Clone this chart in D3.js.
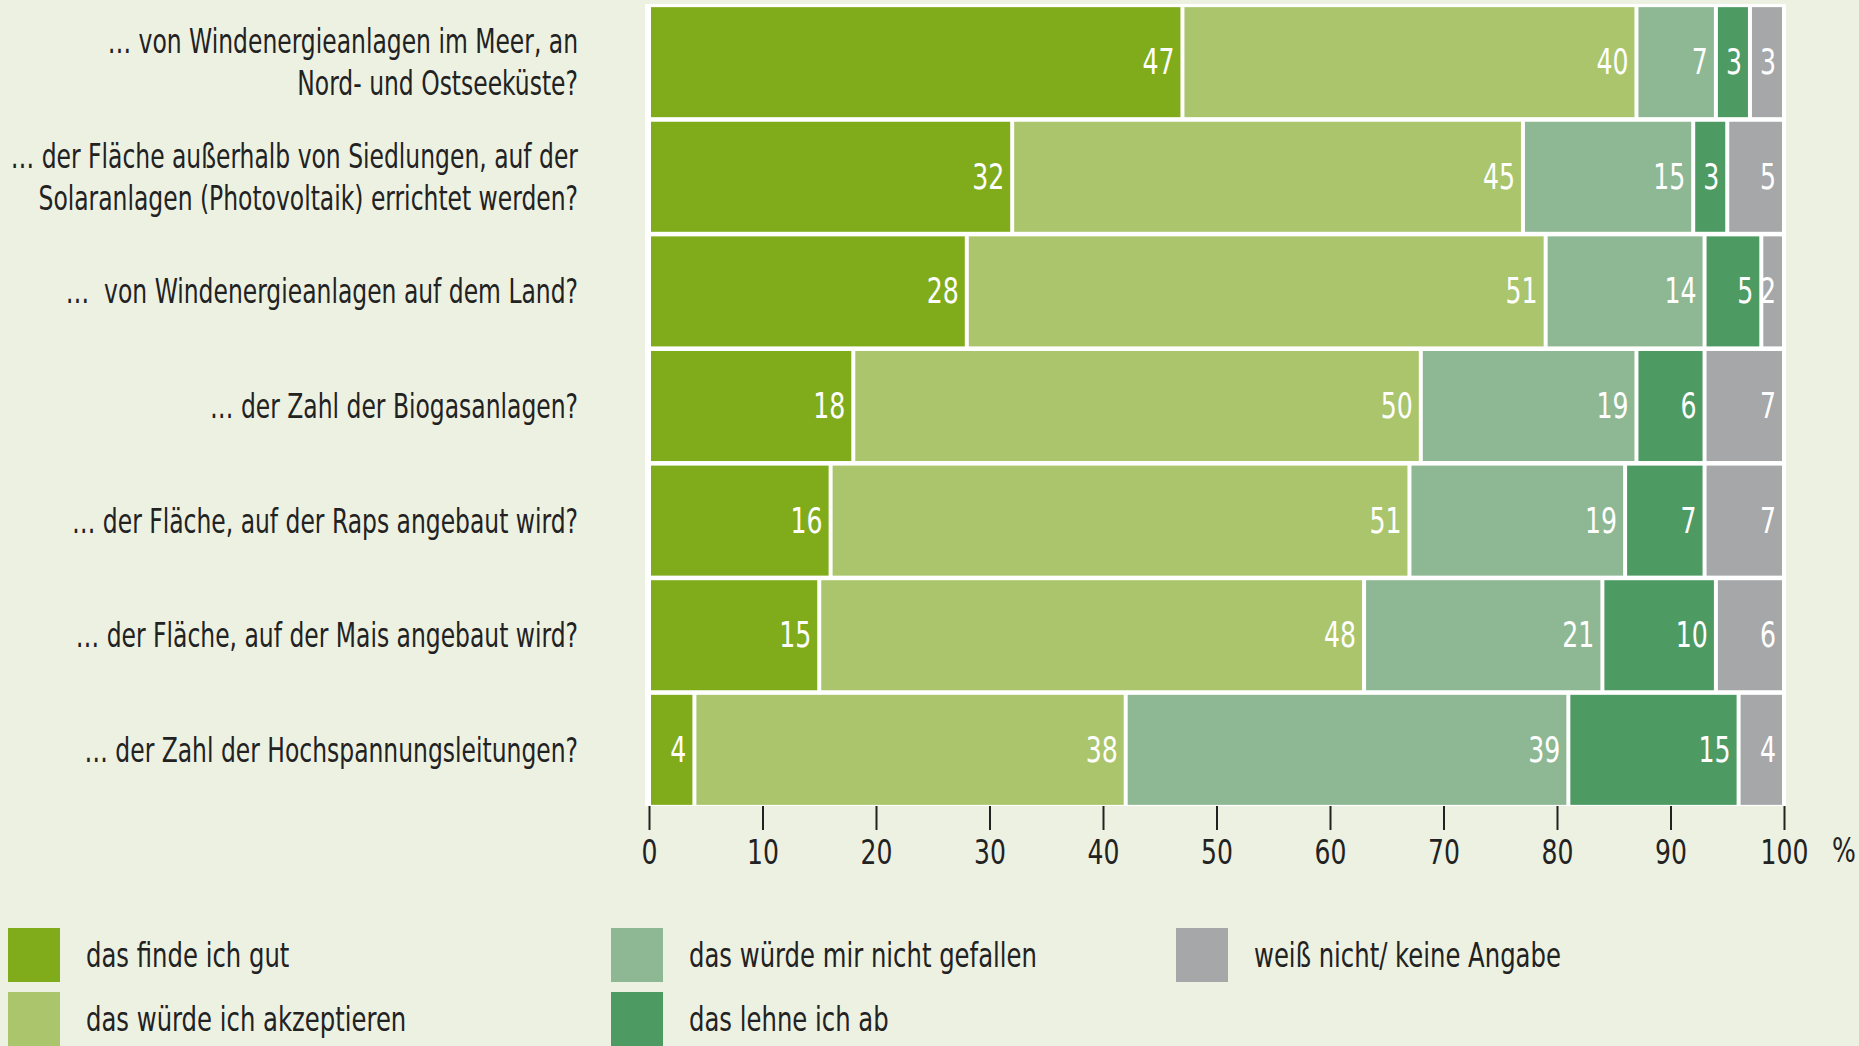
<!DOCTYPE html>
<html>
<head>
<meta charset="utf-8">
<script src="https://cdn.jsdelivr.net/npm/d3@7"></script>
<style>
  html, body { margin: 0; padding: 0; background: #edf1e2; overflow: hidden; }
  svg { display: block; }
  text { font-family: "Liberation Sans Narrow", "DejaVu Sans Condensed", "Liberation Sans", sans-serif; }
</style>
</head>
<body>
<svg id="chart" width="1859" height="1046"></svg>
<script>
// Fragen (zeilen), zweizeilige als array
var questions = [
  ["\u2026 von Windenergieanlagen im Meer, an", "Nord- und Ostseek\u00fcste?"],
  ["\u2026 der Fl\u00e4che au\u00dferhalb von Siedlungen, auf der", "Solaranlagen (Photovoltaik) errichtet werden?"],
  ["\u2026 \u00a0von Windenergieanlagen auf dem Land?"],
  ["\u2026 der Zahl der Biogasanlagen?"],
  ["\u2026 der Fl\u00e4che, auf der Raps angebaut wird?"],
  ["\u2026 der Fl\u00e4che, auf der Mais angebaut wird?"],
  ["\u2026 der Zahl der Hochspannungsleitungen?"]
];

var answers = ["das finde ich gut", "das w\u00fcrde ich akzeptieren", "das w\u00fcrde mir nicht gefallen",
               "das lehne ich ab", "wei\u00df nicht/ keine Angabe"];

// Werte in Prozent, je Antwort eine Reihe
var gut         = [47, 32, 28, 18, 16, 15, 4];
var akzeptieren = [40, 45, 51, 50, 51, 48, 38];
var gefallen    = [7, 15, 14, 19, 19, 21, 39];
var ablehnen    = [3, 3, 5, 6, 7, 10, 15];
var weissNicht  = [3, 5, 2, 7, 7, 6, 4];

var xTicks = [0, 10, 20, 30, 40, 50, 60, 70, 80, 90, 100];

var colors = ["#80ac1b", "#aac56b", "#8db893", "#4e9a63", "#a6a7a9"];

var series = [gut, akzeptieren, gefallen, ablehnen, weissNicht];

// tabelle fuer d3.stack
var table = questions.map(function(q, i) {
  var row = { idx: i };
  answers.forEach(function(a, k) { row[a] = series[k][i]; });
  return row;
});
var stacked = d3.stack().keys(answers)(table);

var svg = d3.select("#chart");

var x = d3.scaleLinear().domain([0, 100]).range([649, 1784]);
var y = d3.scaleBand().domain(d3.range(questions.length)).range([6, 806]).paddingInner(0.04).paddingOuter(0.01);

var textScale = 0.82;
var labelScale = 0.79;

// weisser hintergrund hinter den balken
svg.append("rect")
  .attr("x", x(0) - 4)
  .attr("y", y.range()[0] - 2)
  .attr("width", x(100) - x(0) + 6)
  .attr("height", y.range()[1] - y.range()[0] + 2)
  .attr("fill", "#ffffff");

var layers = svg.append("g").selectAll("g")
  .data(stacked)
  .join("g")
  .attr("fill", function(d, k) { return colors[k]; });

layers.selectAll("rect")
  .data(function(d) { return d; })
  .join("rect")
  .attr("x", function(d) { return x(d[0]) + 2; })
  .attr("y", function(d) { return y(d.data.idx); })
  .attr("width", function(d) { return Math.max(0, x(d[1]) - x(d[0]) - 4); })
  .attr("height", y.bandwidth());

// werte in den balken
layers.selectAll("text")
  .data(function(d) { return d; })
  .join("text")
  .attr("transform", function(d) {
    return "translate(" + (x(d[1]) - 8) + "," + (y(d.data.idx) + y.bandwidth() / 2 + 12) + ") scale(0.8,1)";
  })
  .attr("text-anchor", "end")
  .attr("fill", "#ffffff")
  .attr("font-size", 35)
  .text(function(d) { return d[1] - d[0]; });

// fragen links
var labels = svg.append("g").selectAll("text")
  .data(questions)
  .join("text")
  .attr("text-anchor", "end")
  .attr("fill", "#222222")
  .attr("font-size", 33)
  .attr("transform", function(d, i) {
    var cy = y(i) + y.bandwidth() / 2;
    return "translate(578," + (cy + 12 - (d.length - 1) * 21) + ") scale(" + labelScale + ",1)";
  });

labels.selectAll("tspan")
  .data(function(d) { return d; })
  .join("tspan")
  .attr("x", 0)
  .attr("dy", function(d, j) { return j === 0 ? 0 : 42; })
  .text(function(d) { return d; });

// x-achse, nur striche
var axis = svg.append("g")
  .attr("transform", "translate(0,806)")
  .call(d3.axisBottom(x).tickValues(xTicks).tickSize(24).tickPadding(10).tickFormat(d3.format("d")));
axis.select(".domain").remove();
axis.selectAll(".tick line").attr("stroke", "#222222").attr("stroke-width", 2);
axis.selectAll(".tick text")
  .attr("fill", "#222222")
  .attr("font-size", 34)
  .attr("font-family", null)
  .attr("transform", "scale(" + textScale + ",1)");

svg.append("text")
  .attr("transform", "translate(1832,862) scale(" + textScale + ",1)")
  .attr("fill", "#222222")
  .attr("font-size", 34)
  .text("%");

// legende
var legendPos = [[8, 928], [8, 992], [611, 928], [611, 992], [1176, 928]];
var legend = svg.append("g").selectAll("g")
  .data(answers)
  .join("g")
  .attr("transform", function(d, k) { return "translate(" + legendPos[k][0] + "," + legendPos[k][1] + ")"; });

legend.append("rect")
  .attr("width", 52)
  .attr("height", 54)
  .attr("fill", function(d, k) { return colors[k]; });

legend.append("text")
  .attr("transform", "translate(78,39) scale(" + textScale + ",1)")
  .attr("fill", "#222222")
  .attr("font-size", 33)
  .text(function(d) { return d; });
</script>
</body>
</html>
